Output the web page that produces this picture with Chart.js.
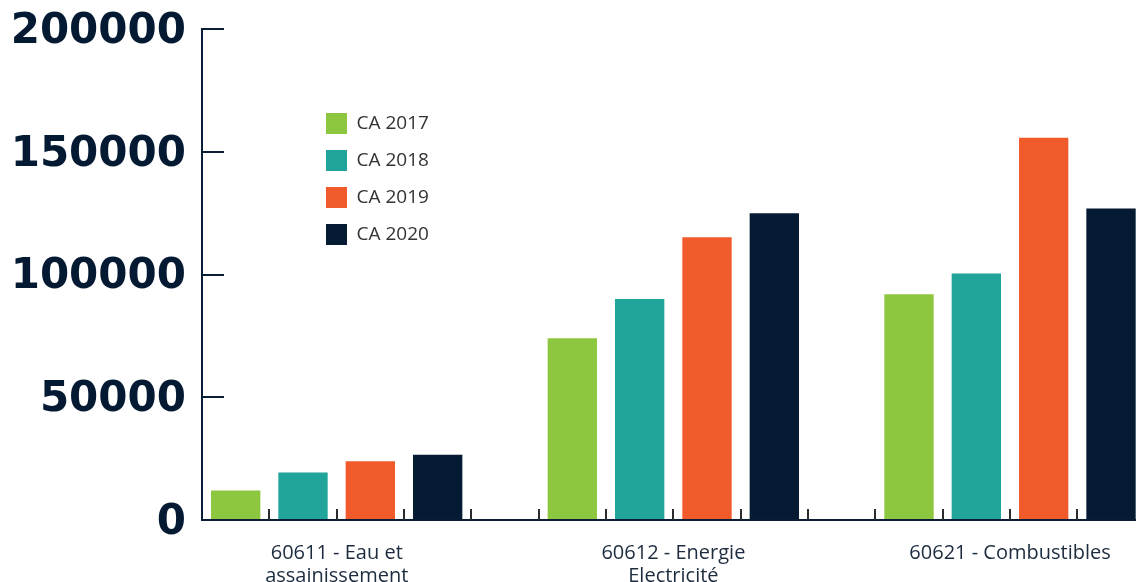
<!DOCTYPE html>
<html lang="fr">
<head>
<meta charset="utf-8">
<title>Comptes administratifs 2017-2020</title>
<script src="https://cdn.jsdelivr.net/npm/chart.js@4/dist/chart.umd.min.js"></script>
<style>
  html, body { margin:0; padding:0; background:#fff; overflow:hidden; }
  #wrap { width:1212px; height:582px; }
</style>
</head>
<body>
<div id="wrap"><canvas id="chartCA" width="1212" height="582"></canvas></div>
<script>
const categories = [
  ["60611 - Eau et", "assainissement"],
  ["60612 - Energie", "Electricité"],
  "60621 - Combustibles"
];
const years = ["CA 2017", "CA 2018", "CA 2019", "CA 2020"];
const ca2017 = [12000, 74000, 92000];
const ca2018 = [19300, 90000, 100400];
const ca2019 = [23900, 115200, 155700];
const ca2020 = [26600, 124900, 126900];
const yTicks = [0, 50000, 100000, 150000, 200000];

const colors = ["#8dc63f", "#21a59a", "#f15a2b", "#041b33"];
const navy = "#0a1d36";
const SLOTS = 5; // 4 bars + 1 empty slot per group

// the legend sits inside the plot, left of the second group
const legendPlacement = {
  id: "legendPlacement",
  afterLayout(chart){
    const lg = chart.legend;
    if (!lg) return;
    lg.left = 310;
    lg.top = 97;
  }
};

// short upward ticks on the x axis, one per bar slot
const slotTicks = {
  id: "slotTicks",
  beforeDatasetsDraw(chart){
    const x = chart.scales.x, area = chart.chartArea, ctx = chart.ctx;
    const n = chart.data.labels.length * SLOTS;
    const step = x.width / n;
    ctx.save();
    ctx.strokeStyle = "#2b2b2b";
    ctx.lineWidth = 2;
    ctx.beginPath();
    for (let j = 1; j < n; j++){
      const px = Math.round(x.left + j * step);
      ctx.moveTo(px, area.bottom - 11);
      ctx.lineTo(px, area.bottom);
    }
    ctx.stroke();
    ctx.restore();
  }
};

const series = [ca2017, ca2018, ca2019, ca2020];
const datasets = series.map((data, i) => ({
  label: years[i],
  data,
  backgroundColor: colors[i],
  borderWidth: 0
}));
// empty fifth slot keeps the gap after each group
datasets.push({ label: "", data: categories.map(() => null), backgroundColor: "transparent" });

new Chart(document.getElementById("chartCA"), {
  type: "bar",
  data: { labels: categories, datasets },
  options: {
    responsive: false,
    animation: false,
    devicePixelRatio: 1,
    layout: { padding: { top: 29, left: 0, right: 0, bottom: 0 } },
    datasets: { bar: { categoryPercentage: 1.0, barPercentage: 0.733 } },
    plugins: {
      title: { display: false },
      tooltip: { enabled: false },
      legend: {
        position: "chartArea",
        align: "start",
        labels: {
          filter: item => item.datasetIndex < years.length,
          boxWidth: 21,
          boxHeight: 21,
          padding: 16,
          color: "#333333",
          font: { family: "'Open Sans'", size: 19 }
        }
      }
    },
    scales: {
      x: {
        offset: true,
        border: { display: true, color: navy, width: 2 },
        grid: { display: false, drawTicks: false },
        ticks: {
          color: "#1c2b3e",
          font: { family: "'Open Sans'", size: 20, lineHeight: 1.15 },
          padding: 22,
          labelOffset: -33.6,
          maxRotation: 0,
          autoSkip: false
        },
        afterFit: s => { s.height = 62; }
      },
      y: {
        min: 0,
        max: 200000,
        afterBuildTicks: s => { s.ticks = yTicks.map(v => ({ value: v })); },
        border: { display: true, color: navy, width: 2 },
        grid: { drawOnChartArea: false, drawTicks: true, tickLength: -22, color: navy, lineWidth: 2 },
        ticks: {
          color: "#041a33",
          padding: 38,
          labelOffset: 3,
          callback: v => String(v),
          font: { family: "'DejaVu Sans'", size: 42, weight: "bold" }
        },
        afterFit: s => { s.width = 202; s.paddingTop = 0; s.paddingBottom = 0; }
      }
    }
  },
  plugins: [legendPlacement, slotTicks]
});
</script>
</body>
</html>
